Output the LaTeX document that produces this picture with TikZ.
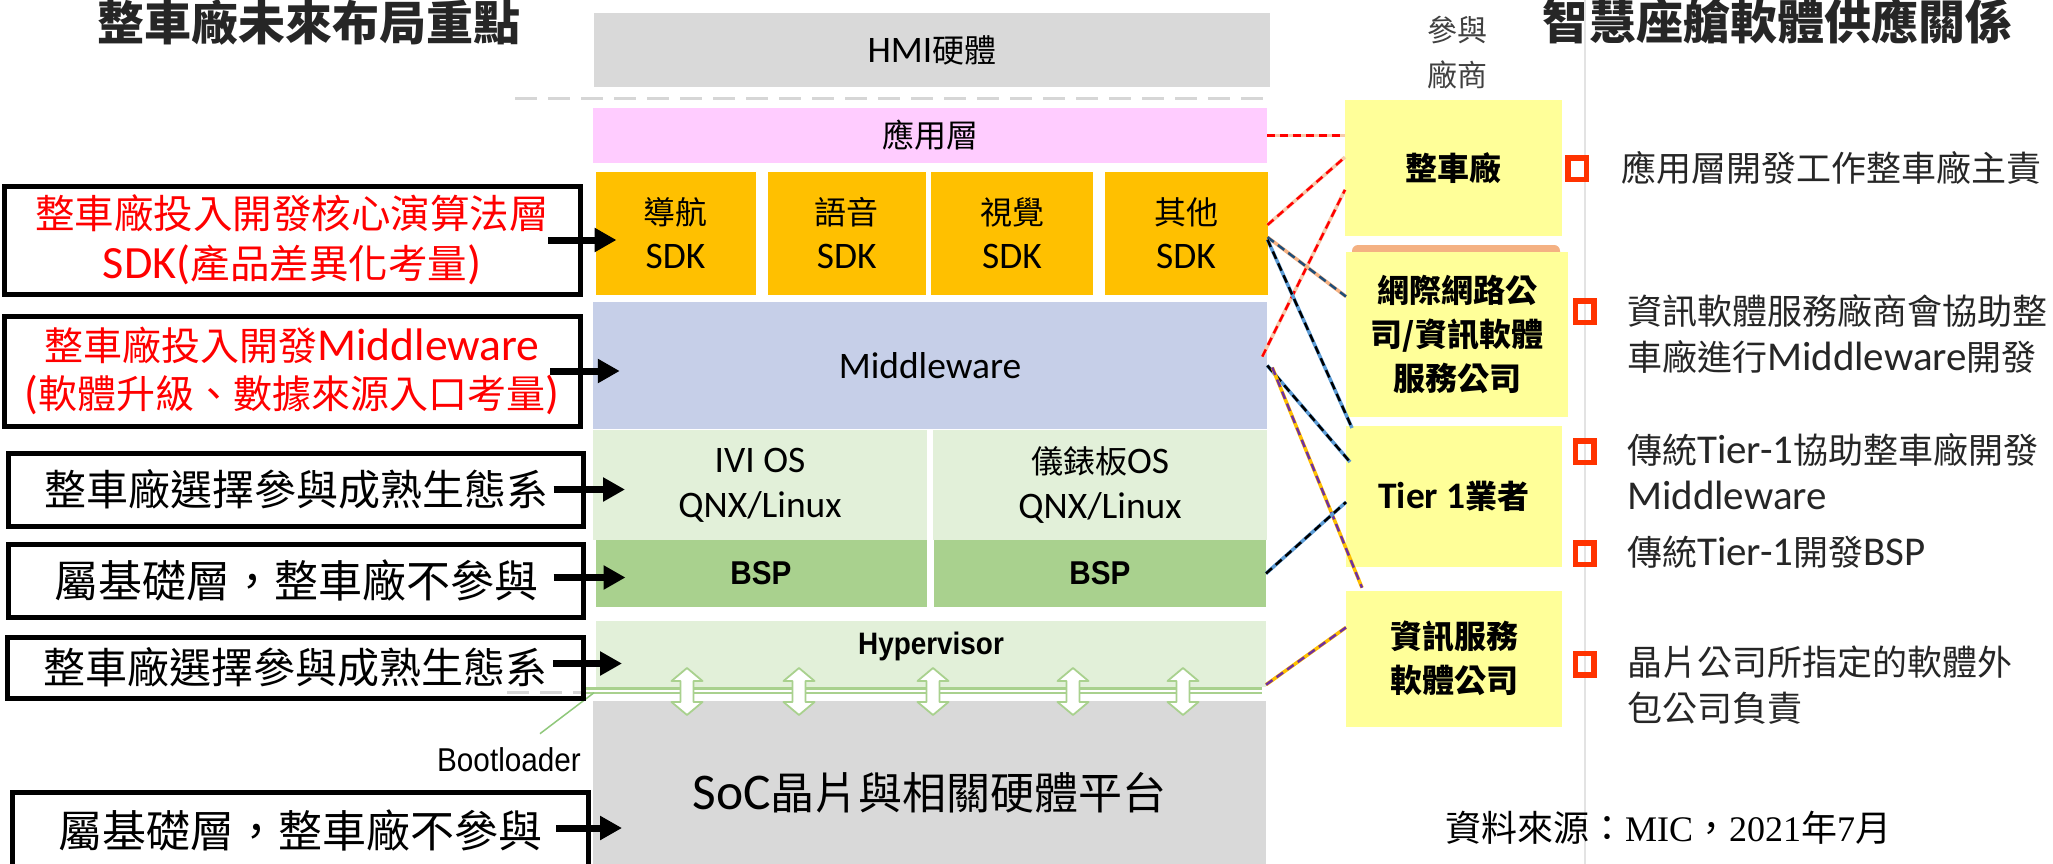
\documentclass[tikz,border=0pt]{standalone}
\usepackage{fontspec}
\setmainfont{Noto Sans CJK TC}
\newfontfamily\lat[Scale=1.17]{Carlito}
\newfontfamily\ari[FakeStretch=0.9]{Liberation Sans}
\newfontfamily\tms{Liberation Serif}
\usetikzlibrary{arrows.meta,calc}

\definecolor{titlegray}{HTML}{262626}
\definecolor{textgray}{HTML}{262626}
\definecolor{hdrgray}{HTML}{404040}
\definecolor{hwgray}{HTML}{D9D9D9}
\definecolor{apppink}{HTML}{FFCCFF}
\definecolor{sdkorange}{HTML}{FFC000}
\definecolor{mwblue}{HTML}{C6CFE8}
\definecolor{osgreen}{HTML}{E2F0D9}
\definecolor{bspgreen}{HTML}{A9D18E}
\definecolor{vendoryellow}{HTML}{FFFF99}
\definecolor{bulletred}{HTML}{FF3300}
\definecolor{sepgray}{HTML}{E3E3E3}
\definecolor{dashgray}{HTML}{D6D6D6}
\definecolor{peach}{HTML}{F8CBAD}
\definecolor{peachdk}{HTML}{F4B183}
\definecolor{navy}{HTML}{1F4E79}
\definecolor{skyblue}{HTML}{5B9BD5}
\definecolor{grape}{HTML}{7030A0}
\definecolor{gold}{HTML}{FFC000}
\definecolor{leafgreen}{HTML}{8FC87A}

\newcommand{\fsz}[2]{\fontsize{#1}{#2}\selectfont}

\tikzset{
  layer/.style={inner sep=0pt, outer sep=0pt, align=center, text=black},
  note/.style={draw=black, line width=5pt, inner sep=0pt, outer sep=0pt, align=center},
  vendor/.style={fill=vendoryellow, inner sep=0pt, outer sep=0pt, align=center,
                 text=black, font=\bfseries\fsz{32}{44}},
  bullet/.style={draw=bulletred, line width=5.5pt, minimum width=18.5pt,
                 minimum height=21.5pt, inner sep=0pt, outer sep=0pt},
  rtext/.style={anchor=west, align=left, inner sep=0pt, text=textgray, font=\fsz{35}{46}},
  pointer/.style={line width=7pt, -{Triangle[length=22pt,width=23pt]}},
  link/.style 2 args={draw=#1, line width=2.5pt, dash pattern=on 8pt off 5pt,
                      preaction={draw=#2, line width=3.5pt, solid}},
  dbl/.style={draw=bspgreen, line width=1.8pt, fill=white, line join=round},
  band/.style={draw=bspgreen, line width=2.5pt, double=white, double distance=2pt},
  sep/.style={draw=dashgray, line width=3pt, dash pattern=on 22pt off 11pt},
}

\begin{document}
\begin{tikzpicture}[x=1pt,y=-1pt]
\fill[white] (0,0) rectangle (2053,864);
\useasboundingbox (0,0) rectangle (2053,864);

% headings
\node[font=\bfseries\fsz{47}{50}, text=titlegray, inner sep=0pt] (ttlL) at (309,22) {整車廠未來布局重點};
\node[font=\bfseries\fsz{47}{50}, text=titlegray, inner sep=0pt] (ttlR) at (1777,21) {智慧座艙軟體供應關係};
\node[font=\fsz{30}{45}, text=hdrgray, align=center, inner sep=0pt] (hdr) at (1457,53) {參與\\廠商};

% separator between diagram and notes
\draw[sepgray, line width=2pt] (1585,0) -- (1585,864);

% dashed separators
\draw[sep] (515,99) -- (1268,99);
\draw[sep] (507,692) -- (585,692);

% software stack
\node[layer, fill=hwgray, minimum width=676pt, minimum height=74pt, font=\fsz{32}{40}] (hmi) at (932,50) {{\lat HMI}硬體};
\node[layer, fill=apppink, minimum width=674.5pt, minimum height=55pt, font=\fsz{32}{40}] (app) at (930,135.5) {應用層};
\node[layer, fill=sdkorange, minimum width=160pt, minimum height=123pt, font=\fsz{32}{44}] (sdk1) at (675.5,233.5) {導航\\{\lat SDK}};
\node[layer, fill=sdkorange, minimum width=158.5pt, minimum height=123pt, font=\fsz{32}{44}] (sdk2) at (846.8,233.5) {語音\\{\lat SDK}};
\node[layer, fill=sdkorange, minimum width=162pt, minimum height=123pt, font=\fsz{32}{44}] (sdk3) at (1012,233.5) {視覺\\{\lat SDK}};
\node[layer, fill=sdkorange, minimum width=163pt, minimum height=123pt, font=\fsz{32}{44}] (sdk4) at (1186,233.5) {其他\\{\lat SDK}};
\node[layer, fill=mwblue, minimum width=674.5pt, minimum height=127pt, font=\fsz{32}{40}] (mw) at (930,365.5) {{\lat Middleware}};
\node[layer, fill=osgreen, minimum width=334pt, minimum height=110pt, font=\fsz{32}{45}] (ivi) at (760,485) {{\lat IVI OS}\\{\lat QNX/Linux}};
\node[layer, fill=osgreen, minimum width=334.5pt, minimum height=110pt, font=\fsz{32}{45}] (ic) at (1100,485) {儀錶板{\lat OS}\\{\lat QNX/Linux}};
\node[layer, fill=bspgreen, minimum width=331pt, minimum height=67pt, font=\ari\bfseries\fsz{33}{36}] (bsp1) at (761,573.5) {BSP};
\node[layer, fill=bspgreen, minimum width=332pt, minimum height=67pt, font=\ari\bfseries\fsz{33}{36}] (bsp2) at (1100,573.5) {BSP};
\node[layer, fill=osgreen, minimum width=670pt, minimum height=66pt] (hyp) at (931,653.7) {};
\node[layer, font=\ari\bfseries\fsz{31}{34}] (hyptext) at (931,646) {Hypervisor};
\node[layer, fill=hwgray, minimum width=673pt, minimum height=184.6pt, font=\fsz{44}{50}] (soc) at (929.5,793) {{\lat SoC}晶片與相關硬體平台};

% interface between hypervisor and SoC
\draw[band] ($(hyp.south west)+(-11,4)$) -- ($(hyp.south east)+(-4,4)$);
\foreach \ax in {687,799,933,1073,1183}{
  \draw[dbl] (\ax,668) -- ({\ax+15.5},681) -- ({\ax+6.5},681) -- ({\ax+6.5},702)
     -- ({\ax+15.5},702) -- (\ax,715) -- ({\ax-15.5},702) -- ({\ax-6.5},702)
     -- ({\ax-6.5},681) -- ({\ax-15.5},681) -- cycle;
}

% bootloader callout
\node[font=\ari\fsz{33}{36}, inner sep=0pt] (boot) at (509,760) {Bootloader};
\draw[leafgreen, line width=1.5pt] ($(boot.north)+(31,-14)$) -- ($(soc.north west)+(1,-8)$);

% OEM focus notes
\node[note, minimum width=576pt, minimum height=108pt, text=red, font=\fsz{39.5}{50}] (n1) at (292,240)
  {整車廠投入開發核心演算法層\\{\lat SDK(}產品差異化考量{\lat )}};
\node[note, minimum width=576pt, minimum height=110pt, text=red, font=\fsz{39}{47.5}] (n2) at (292,371)
  {整車廠投入開發{\lat Middleware}\\{\lat (}軟體升級、數據來源入口考量{\lat )}};
\node[note, minimum width=575pt, minimum height=73pt, font=\fsz{42}{46}] (n3) at (296,489.5) {整車廠選擇參與成熟生態系};
\node[note, minimum width=575pt, minimum height=73pt, font=\fsz{44}{46}] (n4) at (296,580.5) {屬基礎層，整車廠不參與};
\node[note, minimum width=576pt, minimum height=61pt, font=\fsz{42}{46}] (n5) at (295,667.5) {整車廠選擇參與成熟生態系};
\node[note, minimum width=576pt, minimum height=75.5pt, font=\fsz{44}{46}] (n6) at (300,830) {屬基礎層，整車廠不參與};

\draw[pointer] ($(n1.east)+(-32,0)$) -- ($(sdk1.west |- n1.east)+(21,0)$);
\draw[pointer] ($(n2.east)+(-30,0)$) -- ($(mw.west |- n2.east)+(27,0)$);
\draw[pointer] ($(n3.east)+(-30,0)$) -- ($(ivi.west |- n3.east)+(32,0)$);
\draw[pointer] ($(n4.east)+(-30,-3)$) -- ($(bsp1.west |- n4.east)+(30,-3)$);
\draw[pointer] ($(n5.east)+(-30,-4)$) -- ($(hyp.west |- n5.east)+(26,-4)$);
\draw[pointer] ($(n6.east)+(-32,-2)$) -- ($(soc.west |- n6.east)+(29,-2)$);

% participating vendors
\fill[peachdk, rounded corners=6pt] (1352,245) rectangle (1560,266);
\node[vendor, minimum width=217pt, minimum height=136pt] (oem) at (1453.5,168) {整車廠};
\node[vendor, minimum width=222pt, minimum height=165pt] (isp) at (1457,334.5) {網際網路公\\司/資訊軟體\\服務公司};
\node[vendor, minimum width=216pt, minimum height=141pt] (tier1) at (1454,496.5) {{\lat Tier 1}業者};
\node[vendor, minimum width=216pt, minimum height=136pt] (svc) at (1454,658.7) {資訊服務\\軟體公司};

% layer-to-vendor links
\draw[link={red}{peach}] (app.east) -- (app.east -| oem.west);
\draw[link={red}{peach}] ($(sdk4.north east)!0.43!(sdk4.south east)$) -- ($(oem.north west)!0.42!(oem.south west)$);
\draw[link={red}{peach}] ($(mw.north east)!0.43!(mw.south east)+(-5,0)$) -- ($(oem.north west)!0.66!(oem.south west)$);
\draw[link={navy}{peachdk}] ($(sdk4.north east)!0.53!(sdk4.south east)$) -- ($(isp.north west)!0.27!(isp.south west)$);
\draw[link={black}{skyblue}] ($(sdk4.north east)!0.55!(sdk4.south east)$) -- ($(tier1.north west)+(6,2)$);
\draw[link={black}{skyblue}] (mw.east) -- ($(tier1.north west)!0.255!(tier1.south west)+(4,0)$);
\draw[link={grape}{gold}] ($(mw.east)+(5,2)$) -- ($(svc.north west)+(16,-3)$);
\draw[link={black}{skyblue}] (bsp2.east) -- ($(tier1.north west)!0.54!(tier1.south west)$);
\draw[link={grape}{gold}] ($(hyp.north east)!0.97!(hyp.south east)$) -- ($(svc.north west)!0.27!(svc.south west)$);

% supply-relationship notes
\node[bullet] (b1) at (1577,168.5) {};
\node[bullet] (b2) at (1584.6,311.5) {};
\node[bullet] (b3) at (1584.6,451.5) {};
\node[bullet] (b4) at (1584.6,553.5) {};
\node[bullet] (b5) at (1584.6,664) {};

\node[rtext] (r1) at (1621,168) {應用層開發工作整車廠主責};
\node[rtext] (r2) at (1627,334) {資訊軟體服務廠商會協助整\\車廠進行{\lat Middleware}開發};
\node[rtext] (r3) at (1627,472) {傳統{\lat Tier-1}協助整車廠開發\\{\lat Middleware}};
\node[rtext] (r4) at (1627,552.5) {傳統{\lat Tier-1}開發{\lat BSP}};
\node[rtext] (r5) at (1627,685.5) {晶片公司所指定的軟體外\\包公司負責};

\node[font=\fsz{36}{40}, text=black, inner sep=0pt] (src) at (1668,828) {資料來源：{\tms MIC}，{\tms 2021}年{\tms 7}月};
\end{tikzpicture}
\end{document}
